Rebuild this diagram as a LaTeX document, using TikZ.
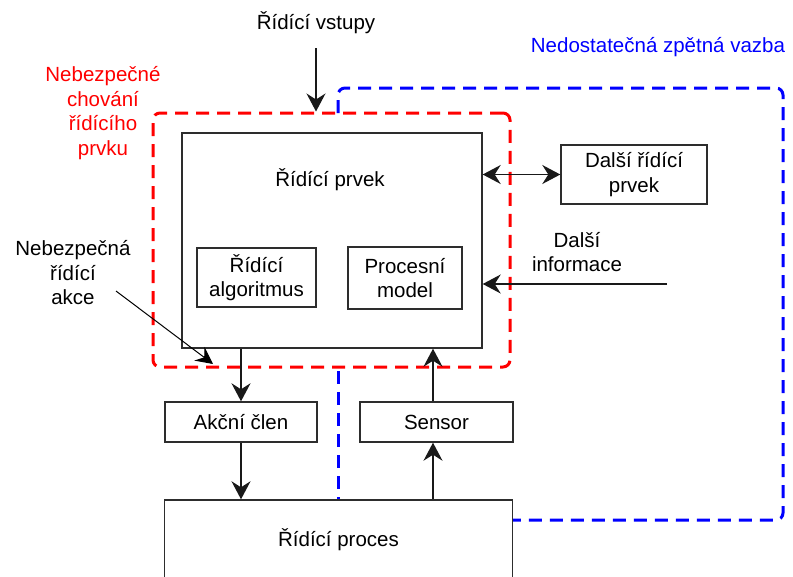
\documentclass[tikz,border=0pt]{standalone}
\usepackage{fontspec}
\setmainfont{Liberation Sans}
\usetikzlibrary{arrows.meta}

\definecolor{hazard}{RGB}{255,0,0}
\definecolor{feedback}{RGB}{0,0,255}
\definecolor{edge}{RGB}{45,45,45}

\tikzset{
  txt/.style={font=\fontsize{20.5}{24.5}\selectfont, align=center, inner sep=0pt},
  blk/.style={txt, draw=edge, line width=1.4pt, fill=white, rectangle},
  tip/.tip={Stealth[length=18pt,width=19pt,inset=6pt]},
  arr/.style={draw=black!90, line width=1.4pt, -tip},
  darr/.style={draw=black!90, line width=1.4pt, tip-tip},
  thinarr/.style={draw=black, line width=1pt,
    -{Stealth[length=17pt,width=17pt,inset=6pt]}},
  reddash/.style={draw=hazard, line width=3pt, dash pattern=on 13pt off 8pt, rounded corners=7pt},
  bluedash/.style={draw=feedback, line width=3pt, dash pattern=on 13pt off 8pt, rounded corners=7pt},
}

\begin{document}
\begin{tikzpicture}[x=1pt, y=-1pt]
  \clip (0,0) rectangle (793,576);
  \useasboundingbox (0,0) rectangle (793,576);
  \fill[white] (0,0) rectangle (793,576);

  % unsafe controller region
  \node[reddash, rectangle, minimum width=357pt, minimum height=254pt, inner sep=0pt]
    (zone) at (331.5,240) {};

  % controller and its parts
  \node[blk, minimum width=300pt, minimum height=215pt] (prvek) at (332,240.5) {};
  \node[txt] (prvektxt) at (330,180) {Řídící prvek};
  \node[blk, minimum width=119pt, minimum height=59pt] (alg) at (256.5,277.5) {Řídící\\algoritmus};
  \node[blk, minimum width=114pt, minimum height=62pt] (model) at (405,278) {Procesní\\model};

  % actuator, sensor, controlled process
  \node[blk, minimum width=152pt, minimum height=40pt] (akcni) at (241,422) {Akční člen};
  \node[blk, minimum width=153pt, minimum height=40pt] (sensor) at (436.5,422) {Sensor};
  \node[blk, minimum width=348pt, minimum height=80pt] (proces) at (338.5,540) {Řídící proces};

  % neighbouring controller
  \node[blk, minimum width=146pt, minimum height=59pt] (dalsi) at (634,174.5) {Další řídící\\prvek};

  % free labels
  \node[txt] (vstupy) at (316,23) {Řídící vstupy};
  \node[txt] (info) at (577,252) {Další\\informace};
  \node[txt] (akce) at (73,273) {Nebezpečná\\řídící\\akce};
  \node[txt, text=hazard] (chovani) at (103,113) {Nebezpečné\\chování\\řídícího\\prvku};
  \node[txt, text=feedback] (vazba) at (658,47) {Nedostatečná zpětná vazba};

  % inadequate feedback loop
  \coordinate (fbstart) at (338,113);
  \draw[bluedash] (fbstart) -- (338,88) -- (783,88) -- (783,520) -- (proces.east |- 0,520);
  \coordinate (fbmid) at (338,371);
  \draw[bluedash] (fbmid) -- (fbmid |- proces.north);

  % signal flow
  \coordinate (vin) at (316,48);
  \draw[arr] (vin) -- (vin |- zone.north);
  \draw[arr] (prvek.south -| akcni.north) -- (akcni.north);
  \draw[arr] (akcni.south) -- (proces.north -| akcni.south);
  \coordinate (sx) at (433,0);
  \draw[arr] (proces.north -| sx) -- (sensor.south -| sx);
  \draw[arr] (sensor.north -| sx) -- (prvek.south -| sx);
  \draw[darr] (prvek.east |- dalsi.west) -- (dalsi.west);
  \coordinate (infostart) at (667,284);
  \draw[arr] (infostart) -- (prvek.east |- infostart);

  % pointer to the unsafe control action
  \coordinate (akcefrom) at (116,291);
  \coordinate (akceto) at (213,364);
  \draw[thinarr] (akcefrom) -- (akceto);
\end{tikzpicture}
\end{document}
